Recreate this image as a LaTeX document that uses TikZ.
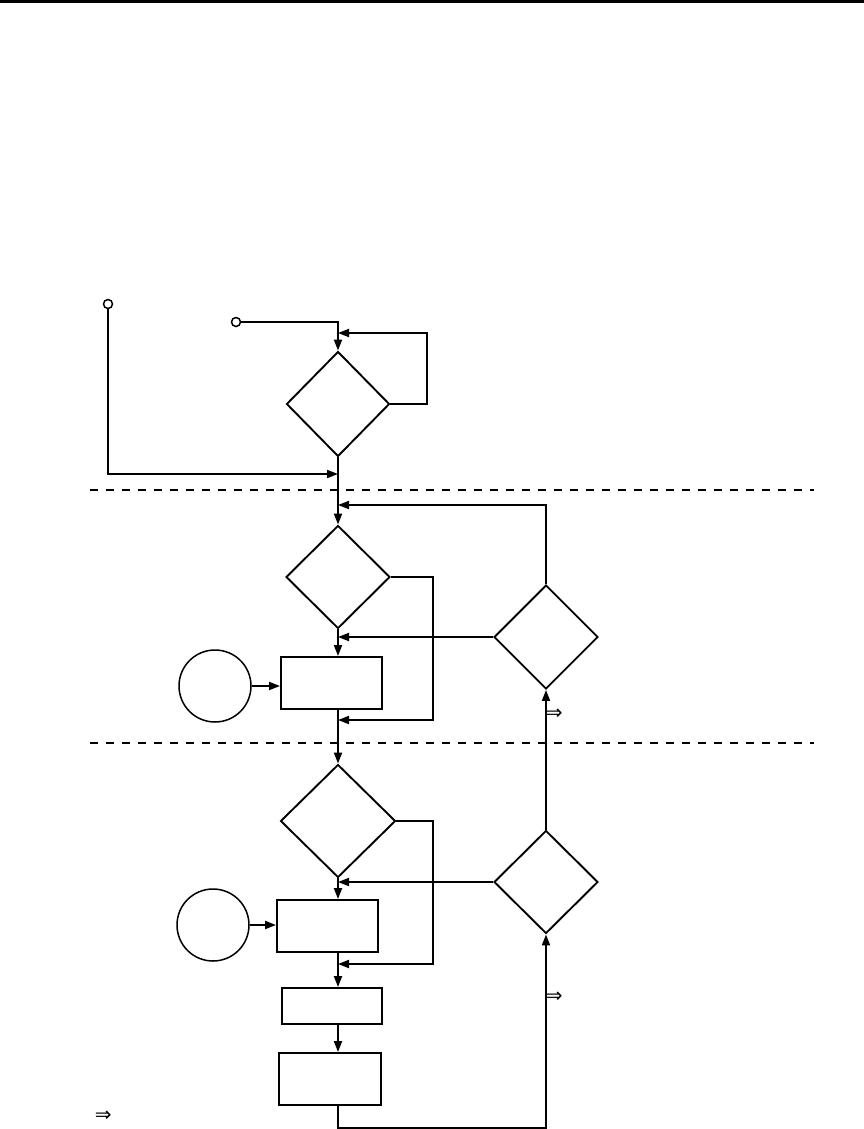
\documentclass[tikz,border=0pt]{standalone}
\usepackage{fontspec}
\newfontfamily\arrfont{DejaVu Sans}
\usetikzlibrary{shapes.geometric,arrows.meta}
\begin{document}
\begin{tikzpicture}[x=1pt,y=-1pt,
  line width=1.9pt,
  dia/.style={draw,diamond,inner sep=0pt,line width=1.9pt},
  boxn/.style={draw,rectangle,inner sep=0pt,line width=1.9pt},
  circn/.style={draw,circle,inner sep=0pt,minimum size=72pt,line width=1.5pt},
  term/.style={draw,circle,inner sep=0pt,minimum size=9pt,line width=1.5pt,fill=white},
  arr/.style={-{Triangle[length=11pt,width=8pt]}},
  sep/.style={dash pattern=on 8pt off 8pt,line width=1.9pt},
  imp/.style={inner sep=0pt,font=\arrfont\fontsize{20}{22}\selectfont}
]
\useasboundingbox (0,0) rectangle (864,1129);
\fill[black] (0,0) rectangle (864,3);

% separators
\draw[sep] (90,490) -- (814,490);
\draw[sep] (90,743) -- (814,743);

% nodes
\node[term] (S1) at (108,304) {};
\node[term] (S2) at (236,322) {};
\node[dia,minimum width=103pt,minimum height=105pt] (D1) at (338,404) {};
\node[dia,minimum width=104pt,minimum height=103pt] (D2) at (338,577) {};
\node[dia,minimum width=104pt,minimum height=104pt] (D3) at (546,637) {};
\node[boxn,minimum width=101pt,minimum height=52pt] (B1) at (331.5,683) {};
\node[circn] (C1) at (215,686) {};
\node[dia,minimum width=115pt,minimum height=113pt] (D4) at (338,821) {};
\node[dia,minimum width=104pt,minimum height=103pt] (D5) at (546,882) {};
\node[boxn,minimum width=101pt,minimum height=52pt] (B2) at (327.5,926) {};
\node[circn] (C2) at (213,925) {};
\node[boxn,minimum width=100pt,minimum height=36pt] (B3) at (332,1006) {};
\node[boxn,minimum width=102pt,minimum height=52pt] (B4) at (330,1079) {};

\node[imp,anchor=west] (I1) at (545,714) {⇒};
\node[imp,anchor=west] (I2) at (545,997) {⇒};
\node[imp,anchor=west] (I3) at (94,1116) {⇒};

% helper coordinates
\coordinate (l1) at (427,333);
\coordinate (m1) at (338,474);
\coordinate (m2) at (338,505);
\coordinate (l2) at (433,720);
\coordinate (l3) at (433,964);
\coordinate (bt) at (338,1128);

% connectors
\draw[arr] (S2.east) -- (S2.east -| D1.north) -- (D1.north);
\draw[arr] (D1.east) -| (l1) -- (l1 -| D1.north);
\draw[arr] (S1.south) |- (m1);
\draw[arr] (D1.south) -- (D2.north);
\draw[arr] (D3.north) |- (m2);
\draw[arr] (D2.east) -| (l2) -- (l2 -| D2.south);
\draw[arr] (D3.west) -- (D3.west -| D2.south);
\draw[arr] (D2.south) -- (D2.south |- B1.north);
\draw[arr] (C1.east) -- (C1.east -| B1.west);
\draw[arr] (B1.south -| D2.south) -- (D4.north);
\draw[arr] (D4.east) -| (l3) -- (l3 -| D4.south);
\draw[arr] (D5.west) -- (D5.west -| D4.south);
\draw[arr] (D4.south) -- (D4.south |- B2.north);
\draw[arr] (C2.east) -- (C2.east -| B2.west);
\draw[arr] (B2.south -| D4.south) -- (B3.north -| D4.south);
\draw[arr] (B3.south -| D4.south) -- (B4.north -| D4.south);
\draw[arr] (B4.south -| bt) -- (bt) -| (D5.south);
\draw[arr] (D5.north) -- (D3.south);
\end{tikzpicture}
\end{document}
